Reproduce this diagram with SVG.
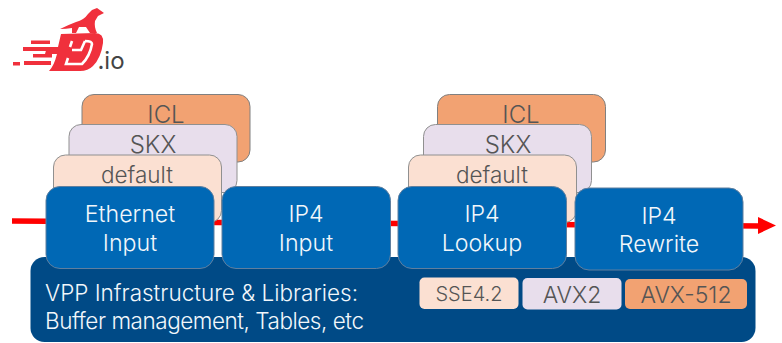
<svg xmlns="http://www.w3.org/2000/svg" width="782" height="343" viewBox="0 0 782 343">
<style>
text{font-family:"Inter","Liberation Sans",sans-serif;font-weight:300;text-anchor:middle}
.blue{fill:#0068b5;stroke:#5f7f9f;stroke-width:1}
.w{fill:#f2f7fb;font-size:23.2px}
.d{fill:#555;font-size:24px}
.df{font-size:22.5px}
.icl{fill:#f2a272;stroke:#808080}
.skx{fill:#e8deec;stroke:#909090}
.def{fill:#fbe0d2;stroke:#909090}
.inf{font-size:22.5px;text-anchor:start}
</style>
<rect width="782" height="343" fill="#fff"/>
<g id="logo" fill="#f0303c">
<path d="M60 29 Q68 25 76 22 Q84 20 88 14 L92 10 L97 8 L104 13 L98 16 L95 21 Q94 27 97 33 L90 33 L86 27 L79 27 L76 33 L72 33 L72 28 Q66 29 60 29Z"/>
<path d="M61 34 L95 33 Q104 33 103 43 Q101 58 93 66 Q88 71 80 71 L49 71 Q54 66 57 54 L45 54 L47 47 L58 47Z"/>
<path d="M72 41 L70 47 M85 41 L81 50 L72 50 M68 58 L66 64 L82 64 Q90 56 92 44 Q92 41 85 41" fill="none" stroke="#fff" stroke-width="2.6"/>
<rect x="31" y="40.5" width="19" height="3.5"/><rect x="23" y="47" width="27" height="4"/><rect x="33" y="54" width="19" height="3.5"/>
<rect x="24" y="61" width="27" height="4"/><rect x="13" y="62" width="7" height="3.5"/>
</g>
<text x="111" y="69" font-size="24" fill="#444" style="font-weight:400">.io</text>
<g id="connectors">
<path d="M12 221 L760 226" stroke="#f00" stroke-width="5.5" fill="none"/>
<path d="M758 217 L776 225.5 L758 234Z" fill="#f00"/>
</g>
<g id="base"><rect x="30.5" y="257" width="725" height="85" rx="14" fill="#004a86"/>
<text x="45" y="301" class="w inf" textLength="313">VPP Infrastructure &amp; Libraries:</text>
<text x="45" y="329" class="w inf" textLength="319">Buffer management, Tables, etc</text></g>
<g id="icl1"><rect class="icl" x="82" y="94.5" width="168" height="67.5" rx="12"/><text class="d" x="166" y="123">ICL</text></g>
<g id="skx1"><rect class="skx" x="69" y="124.5" width="168" height="68" rx="12"/><text class="d" x="153" y="153">SKX</text></g>
<g id="default1"><rect class="def" x="53.5" y="155" width="168" height="67.5" rx="12"/><text class="d df" x="137" y="183">default</text></g>
<g id="icl2"><rect class="icl" x="437.5" y="94.5" width="168" height="67.5" rx="12"/><text class="d" x="521" y="123">ICL</text></g>
<g id="skx2"><rect class="skx" x="423.5" y="124.5" width="168" height="68" rx="12"/><text class="d" x="508" y="153">SKX</text></g>
<g id="default2"><rect class="def" x="408.5" y="155" width="168" height="67.5" rx="12"/><text class="d df" x="492" y="183">default</text></g>
<g id="ethernet"><rect class="blue" x="46" y="186.5" width="168" height="82" rx="14"/><text class="w" x="130" y="222">Ethernet</text><text class="w" x="130" y="250.5">Input</text></g>
<g id="ip4input"><rect class="blue" x="222" y="186.5" width="168.5" height="82" rx="14"/><text class="w" x="306" y="222">IP4</text><text class="w" x="306" y="250.5">Input</text></g>
<g id="ip4lookup"><rect class="blue" x="398" y="186.5" width="168.5" height="82" rx="14"/><text class="w" x="482" y="222">IP4</text><text class="w" x="482" y="250.5">Lookup</text></g>
<g id="ip4rewrite"><rect class="blue" x="575" y="188" width="168" height="82" rx="14"/><text class="w" x="659" y="223.5">IP4</text><text class="w" x="659" y="252">Rewrite</text></g>
<g id="sse"><rect x="419.5" y="277.5" width="99" height="31.5" rx="5" fill="#fbe0d2"/><text class="d" x="469" y="301" style="font-size:20px">SSE4.2</text></g>
<g id="avx2"><rect x="522.5" y="278" width="99" height="31.5" rx="5" fill="#e8deec"/><text class="d" x="572" y="302.5" style="font-size:23px">AVX2</text></g>
<g id="avx512"><rect x="625" y="279" width="122" height="30" rx="5" fill="#f2a272"/><text class="d" x="686" y="302.5" style="font-size:23px">AVX-512</text></g>
</svg>
